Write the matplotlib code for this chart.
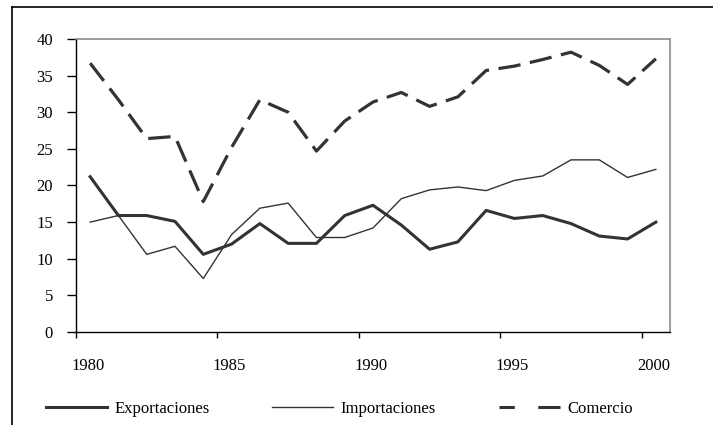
import matplotlib
matplotlib.use('Agg')
from matplotlib import pyplot as plt
from matplotlib.lines import Line2D
from matplotlib.transforms import ScaledTranslation

years = list(range(1980, 2001))
exportaciones = [21.2, 15.9, 15.9, 15.1, 10.6, 12.0, 14.8, 12.1, 12.1, 15.9, 17.3,
                 14.6, 11.3, 12.3, 16.6, 15.5, 15.9, 14.8, 13.1, 12.7, 15.0]
importaciones = [15.0, 15.9, 10.6, 11.7, 7.3, 13.3, 16.9, 17.6, 12.9, 12.9, 14.2,
                 18.2, 19.4, 19.8, 19.3, 20.7, 21.3, 23.5, 23.5, 21.1, 22.2]
comercio = [36.7, 31.7, 26.4, 26.7, 17.8, 25.2, 31.7, 30.0, 24.7, 28.8, 31.4,
            32.7, 30.8, 32.1, 35.7, 36.3, 37.2, 38.2, 36.4, 33.8, 37.3]

plt.rcParams['font.family'] = ['Liberation Serif', 'DejaVu Serif']
col = '#333333'

fig = plt.figure(figsize=(7.13, 4.25), dpi=100)
ax = fig.add_axes([76/713, 1-332/425, 594/713, 293/425])

# points sit in the middle of each year slot
xs = [y + 0.5 for y in years]
ax.plot(xs, exportaciones, color=col, lw=2.2, label='Exportaciones')
ax.plot(xs, importaciones, color=col, lw=1.0, label='Importaciones')
ax.plot(xs, comercio, color=col, lw=2.3, dashes=(7, 3), label='Comercio')

ax.set_xlim(1980, 2001)
ax.set_ylim(0, 40)
ax.set_xticks([1980, 1985, 1990, 1995, 2000])
ax.set_yticks(range(0, 41, 5))
ax.tick_params(axis='y', direction='out', length=6.5, width=1, labelsize=12, pad=10)
ax.tick_params(axis='x', direction='out', length=4.5, width=1, labelsize=12, pad=14)
# year labels sit a bit to the right of their ticks in the original
shift = ScaledTranslation(12/100, 0, fig.dpi_scale_trans)
for lab in ax.get_xticklabels():
    lab.set_transform(lab.get_transform() + shift)
for s in ['left', 'bottom']:
    ax.spines[s].set_color('black')
    ax.spines[s].set_linewidth(1.0)
for s in ['top', 'right']:
    ax.spines[s].set_color('#8c8c8c')
    ax.spines[s].set_linewidth(1.2)

leg = fig.legend(loc='center left', bbox_to_anchor=(46/713, 1-409/425), ncol=3,
                 frameon=False, fontsize=12, handlelength=3.66, columnspacing=3.75,
                 handletextpad=0.45, borderaxespad=0, borderpad=0)
leg.get_lines()[2].set_linestyle((2.7, (7.7, 7.7)))
leg.get_lines()[2].set_linewidth(2.2)

# outer border (only left and top are visible in the crop)
fig.add_artist(Line2D([12/713, 12/713], [0, 1-7/425], color='black', lw=1.2,
                      transform=fig.transFigure))
fig.add_artist(Line2D([12/713, 1], [1-7/425, 1-7/425], color='black', lw=1.2,
                      transform=fig.transFigure))

fig.savefig('out.png', dpi=100)
